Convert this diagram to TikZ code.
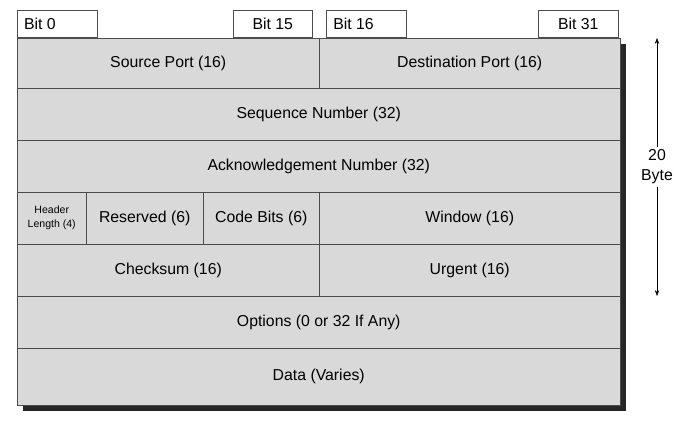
\documentclass[tikz,border=0pt]{standalone}
\usepackage{fontspec}
\setmainfont{Liberation Sans}
\usetikzlibrary{arrows.meta}
\begin{document}
\begin{tikzpicture}[x=0.3mm,y=-0.3mm,
    field/.style={draw=black!70,fill=black!15,inner sep=0pt,anchor=north west,
        font=\fontsize{13.5}{16}\selectfont},
    bitbox/.style={draw=black!70,fill=white,inner sep=0pt,anchor=north west,
        minimum height=27*0.3mm,font=\fontsize{13.5}{16}\selectfont}]
    \useasboundingbox (0,0) rectangle (674,426);
    % shadow
    \fill[black!85] (23,44) rectangle (626,411);
    % bit labels
    \node[bitbox,minimum width=80*0.3mm] (b0) at (17,10) {\hspace*{-2.2em}Bit 0};
    \node[bitbox,minimum width=79*0.3mm] (b15) at (233,10) {Bit 15};
    \node[bitbox,minimum width=80*0.3mm] (b16) at (326,10) {\hspace*{-1.6em}Bit 16};
    \node[bitbox,minimum width=80*0.3mm] (b31) at (538,10) {Bit 31};
    % rows
    \node[field,minimum width=302*0.3mm,minimum height=50*0.3mm] (src) at (17,38) {Source Port (16)};
    \node[field,minimum width=301*0.3mm,minimum height=50*0.3mm] (dst) at (319,38) {Destination Port (16)};
    \node[field,minimum width=603*0.3mm,minimum height=52*0.3mm] (seq) at (17,88) {Sequence Number (32)};
    \node[field,minimum width=603*0.3mm,minimum height=52*0.3mm] (ack) at (17,140) {Acknowledgement Number (32)};
    \node[field,minimum width=69*0.3mm,minimum height=52*0.3mm,align=center,
        font=\fontsize{9}{12}\selectfont] (hlen) at (17,192) {Header\\Length (4)};
    \node[field,minimum width=117*0.3mm,minimum height=52*0.3mm] (res) at (86,192) {Reserved (6)};
    \node[field,minimum width=116*0.3mm,minimum height=52*0.3mm] (code) at (203,192) {Code Bits (6)};
    \node[field,minimum width=301*0.3mm,minimum height=52*0.3mm] (win) at (319,192) {Window (16)};
    \node[field,minimum width=302*0.3mm,minimum height=52*0.3mm] (chk) at (17,244) {Checksum (16)};
    \node[field,minimum width=301*0.3mm,minimum height=52*0.3mm] (urg) at (319,244) {Urgent (16)};
    \node[field,minimum width=603*0.3mm,minimum height=52*0.3mm] (opt) at (17,296) {Options (0 or 32 If Any)};
    \node[field,minimum width=603*0.3mm,minimum height=57*0.3mm] (data) at (17,348) {Data (Varies)};
    % size marker
    \coordinate (top) at (657,38);
    \coordinate (bot) at (657,296);
    \node[fill=white,align=center,inner sep=2pt,font=\fontsize{13.5}{17}\selectfont] (len) at (657,167) {20\\Byte};
    \draw[-{Stealth[length=5pt]}] (len) -- (top);
    \draw[-{Stealth[length=5pt]}] (len) -- (bot);
\end{tikzpicture}
\end{document}
